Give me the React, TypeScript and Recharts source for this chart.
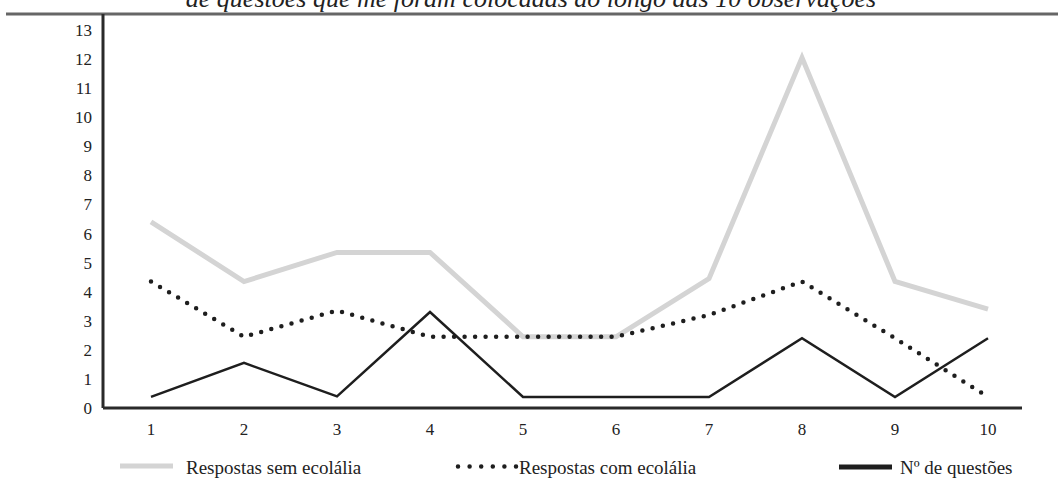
import React from "react"
import { CartesianGrid, Legend, Line, LineChart, XAxis, YAxis } from "recharts"

const observacoes = ["1", "2", "3", "4", "5", "6", "7", "8", "9", "10"]
const semEcolalia = [6.4, 4.35, 5.35, 5.35, 2.45, 2.45, 4.45, 12.05, 4.35, 3.4]
const comEcolalia = [4.35, 2.45, 3.35, 2.45, 2.45, 2.45, 3.2, 4.35, 2.4, 0.38]
const numQuestoes = [0.38, 1.55, 0.4, 3.3, 0.38, 0.38, 0.38, 2.4, 0.38, 2.4]
const yTicks = [0, 1, 2, 3, 4, 5, 6, 7, 8, 9, 10, 11, 12, 13]

const titulo = "de questões que me foram colocadas ao longo das 10 observações"
const legendaSem = "Respostas sem ecolália"
const legendaCom = "Respostas com ecolália"
const legendaQuestoes = "Nº de questões"

const SERIF = "'Liberation Serif'"
const GRAY = "#d4d4d4"
const DARK = "#1e1e1e"

const chartData = observacoes.map((obs, i) => ({
  obs,
  sem: semEcolalia[i],
  com: comEcolalia[i],
  questoes: numQuestoes[i],
}))

// fixed-position legend, matching the original layout
function renderLegend() {
  return (
    <svg width={1058} height={30} style={{ display: "block" }}>
      <g fill="#222" fontFamily={SERIF} fontSize={19}>
        <line x1={120} x2={173} y1={15} y2={15} stroke={GRAY} strokeWidth={5} />
        <text x={186} y={16} dy="0.35em">{legendaSem}</text>
        <line
          x1={458}
          x2={516}
          y1={15.5}
          y2={15.5}
          stroke={DARK}
          strokeWidth={4.5}
          strokeLinecap="round"
          strokeDasharray="0 11.6"
        />
        <text x={519} y={16} dy="0.35em">{legendaCom}</text>
        <line x1={839} x2={892} y1={16} y2={16} stroke={DARK} strokeWidth={5} />
        <text x={900} y={16} dy="0.35em">{legendaQuestoes}</text>
      </g>
    </svg>
  )
}

export default function App() {
  return (
    <div style={{ position: "absolute", left: 0, top: 0, width: 1058, height: 487, background: "#fff" }}>
      <svg width={1058} height={20} style={{ position: "absolute", left: 0, top: 0 }}>
        <text x={531} y={7} textAnchor="middle" fontFamily={SERIF} fontStyle="italic" fontSize={26} fill="#222">
          {titulo}
        </text>
        <line x1={6} x2={1058} y1={14} y2={14} stroke="#666" strokeWidth={3} />
      </svg>
      <LineChart
        width={1058}
        height={487}
        data={chartData}
        margin={{ top: 14, right: 36, bottom: 49, left: 43 }}
        style={{ position: "absolute", left: 0, top: 0 }}
      >
        <CartesianGrid horizontal={false} vertical={false} />
        <XAxis
          dataKey="obs"
          height={30}
          padding={{ left: 48, right: 34 }}
          axisLine={{ stroke: "#2a2a2a", strokeWidth: 3 }}
          tickLine={false}
          tickSize={0}
          tickMargin={15}
          tick={{ fill: "#222", fontSize: 17, fontFamily: SERIF }}
          interval={0}
        />
        <YAxis
          width={60}
          domain={[0, 13.55]}
          ticks={yTicks}
          interval={0}
          axisLine={{ stroke: "#2a2a2a", strokeWidth: 3 }}
          tickLine={false}
          tickSize={0}
          tickMargin={11}
          tick={{ fill: "#222", fontSize: 17, fontFamily: SERIF }}
        />
        <Legend
          content={renderLegend}
          layout="horizontal"
          verticalAlign="middle"
          align="center"
          wrapperStyle={{ top: 451, left: 0, width: 1058 }}
        />
        <Line dataKey="sem" name={legendaSem} stroke={GRAY} strokeWidth={5} dot={false} isAnimationActive={false} />
        <Line
          dataKey="com"
          name={legendaCom}
          stroke={DARK}
          strokeWidth={4.5}
          strokeLinecap="round"
          strokeDasharray="0 10.5"
          dot={false}
          isAnimationActive={false}
        />
        <Line dataKey="questoes" name={legendaQuestoes} stroke={DARK} strokeWidth={2.5} dot={false} isAnimationActive={false} />
      </LineChart>
    </div>
  )
}
